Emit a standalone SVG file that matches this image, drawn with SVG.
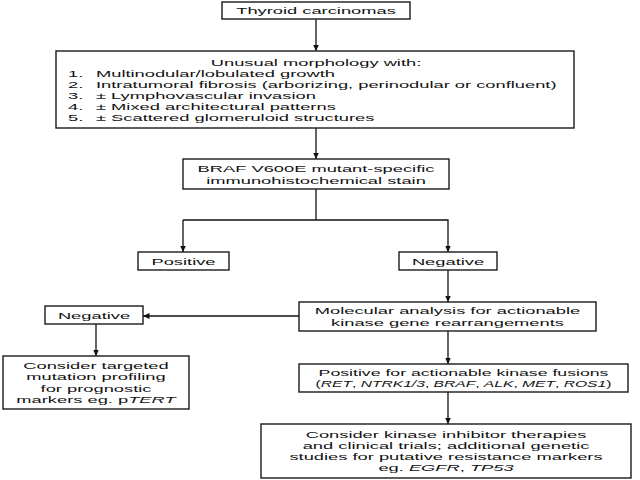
<svg xmlns="http://www.w3.org/2000/svg" width="640" height="480" viewBox="0 0 640 480">
<style>
.box{fill:#fff;stroke:#1a1a1a;stroke-width:1.4}
.ln{fill:none;stroke:#111;stroke-width:1.3}
.t{font-family:"Liberation Sans",Arial,Helvetica,sans-serif;font-size:18.3px;fill:#111}
.c{text-anchor:middle}
.i{font-style:italic}
</style>
<defs>
<marker id="ah" markerUnits="userSpaceOnUse" markerWidth="8" markerHeight="8" refX="6.5" refY="3" orient="auto">
<path d="M0,0 L6.5,3 L0,6 z" fill="#111"/>
</marker>
</defs>
<rect width="640" height="480" fill="#fff"/>
<g id="connectors">
<line class="ln" x1="316" y1="19" x2="316" y2="51" marker-end="url(#ah)"/>
<line class="ln" x1="316" y1="128" x2="316" y2="159" marker-end="url(#ah)"/>
<polyline class="ln" points="316,189 316,220"/>
<polyline class="ln" points="183,220 448,220 448,252" marker-end="url(#ah)"/>
<line class="ln" x1="183" y1="220" x2="183" y2="252" marker-end="url(#ah)"/>
<line class="ln" x1="448" y1="270" x2="448" y2="302" marker-end="url(#ah)"/>
<line class="ln" x1="299" y1="316" x2="143" y2="316" marker-end="url(#ah)"/>
<line class="ln" x1="96" y1="324" x2="96" y2="356" marker-end="url(#ah)"/>
<line class="ln" x1="448" y1="331" x2="448" y2="364" marker-end="url(#ah)"/>
<line class="ln" x1="448" y1="392" x2="448" y2="424" marker-end="url(#ah)"/>
</g>
<g id="thyroid">
<rect class="box" x="222" y="2" width="188" height="17"/>
<text class="t c" transform="translate(316,14) scale(1,0.52)">Thyroid carcinomas</text>
</g>
<g id="morphology">
<rect class="box" x="56" y="51" width="518" height="77"/>
<text class="t c" transform="translate(316,65.6) scale(1,0.52)">Unusual morphology with:</text>
<text class="t" transform="translate(0,76.7) scale(1,0.52)"><tspan x="68">1.</tspan><tspan x="96">Multinodular/lobulated growth</tspan></text>
<text class="t" transform="translate(0,87.8) scale(1,0.52)"><tspan x="68">2.</tspan><tspan x="96">Intratumoral fibrosis (arborizing, perinodular or confluent)</tspan></text>
<text class="t" transform="translate(0,98.9) scale(1,0.52)"><tspan x="68">3.</tspan><tspan x="96">± Lymphovascular invasion</tspan></text>
<text class="t" transform="translate(0,110) scale(1,0.52)"><tspan x="68">4.</tspan><tspan x="96">± Mixed architectural patterns</tspan></text>
<text class="t" transform="translate(0,121.1) scale(1,0.52)"><tspan x="68">5.</tspan><tspan x="96">± Scattered glomeruloid structures</tspan></text>
</g>
<g id="braf">
<rect class="box" x="183" y="159" width="266" height="30"/>
<text class="t c" transform="translate(316,172.3) scale(1,0.52)"><tspan x="0">BRAF V600E mutant-specific</tspan><tspan x="0" dy="22.5">immunohistochemical stain</tspan></text>
</g>
<g id="positive">
<rect class="box" x="138" y="252" width="91" height="18"/>
<text class="t c" transform="translate(183.5,264.5) scale(1,0.52)">Positive</text>
</g>
<g id="negative">
<rect class="box" x="399" y="252" width="98" height="18"/>
<text class="t c" transform="translate(448,264.5) scale(1,0.52)">Negative</text>
</g>
<g id="molecular">
<rect class="box" x="299" y="302" width="297" height="29"/>
<text class="t c" transform="translate(447.5,314.3) scale(1,0.52)"><tspan x="0">Molecular analysis for actionable</tspan><tspan x="0" dy="21.9">kinase gene rearrangements</tspan></text>
</g>
<g id="negative2">
<rect class="box" x="45" y="306" width="98" height="18"/>
<text class="t c" transform="translate(94,318.5) scale(1,0.52)">Negative</text>
</g>
<g id="targeted">
<rect class="box" x="3" y="356" width="186" height="53"/>
<text class="t c" transform="translate(96,369) scale(1,0.52)"><tspan x="0">Consider targeted</tspan><tspan x="0" dy="21.7">mutation profiling</tspan><tspan x="0" dy="21.7">for prognostic</tspan><tspan x="0" dy="21.7">markers eg. p<tspan class="i">TERT</tspan></tspan></text>
</g>
<g id="fusions">
<rect class="box" x="299" y="364" width="329" height="28"/>
<text class="t c" transform="translate(463.5,375.8) scale(0.967,0.52)">Positive for actionable kinase fusions</text>
<text class="t c" transform="translate(463.5,387) scale(0.854,0.52)">(<tspan class="i">RET</tspan>, <tspan class="i">NTRK1/3</tspan>, <tspan class="i">BRAF</tspan>, <tspan class="i">ALK</tspan>, <tspan class="i">MET</tspan>, <tspan class="i">ROS1</tspan>)</text>
</g>
<g id="therapies">
<rect class="box" x="261" y="424" width="370" height="54"/>
<text class="t c" transform="translate(446,437.5) scale(1,0.52)"><tspan x="0">Consider kinase inhibitor therapies</tspan><tspan x="0" dy="21.7">and clinical trials; additional genetic</tspan><tspan x="0" dy="21.7">studies for putative resistance markers</tspan><tspan x="0" dy="21.7">eg. <tspan class="i">EGFR</tspan>, <tspan class="i">TP53</tspan></tspan></text>
</g>
</svg>
